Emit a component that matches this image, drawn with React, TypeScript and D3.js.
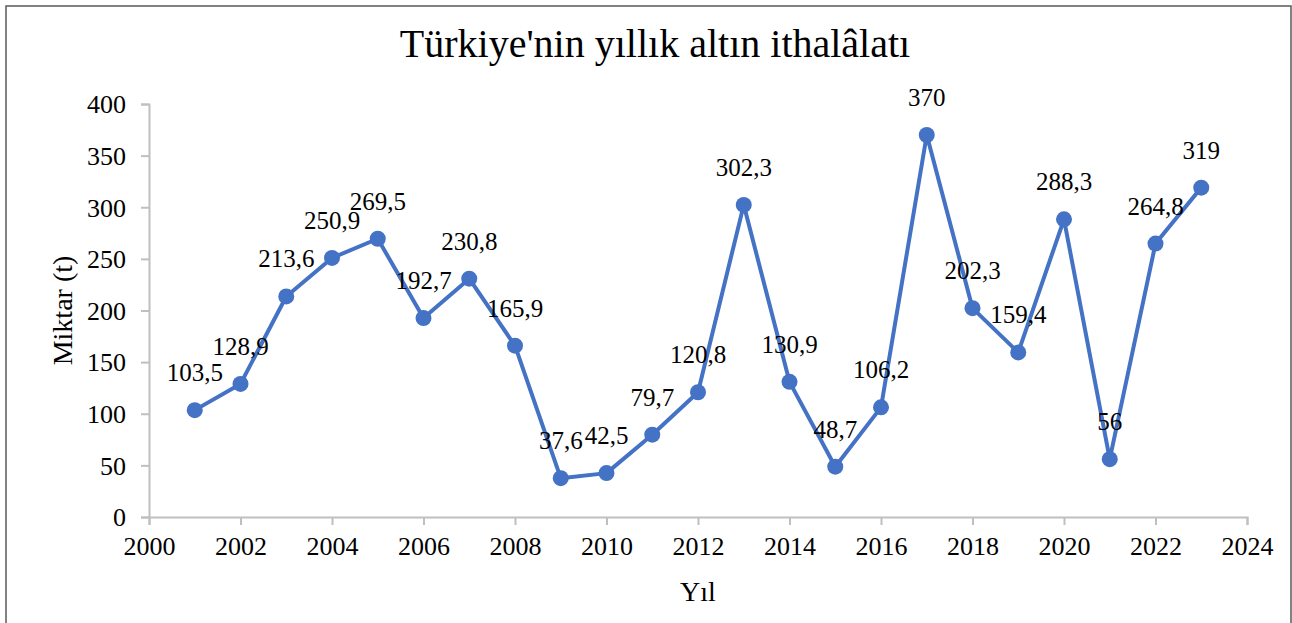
import React, { useEffect, useRef } from "react";
import * as d3 from "d3";

const years = [2001, 2002, 2003, 2004, 2005, 2006, 2007, 2008, 2009, 2010, 2011, 2012,
  2013, 2014, 2015, 2016, 2017, 2018, 2019, 2020, 2021, 2022, 2023];
const amounts = [103.5, 128.9, 213.6, 250.9, 269.5, 192.7, 230.8, 165.9, 37.6, 42.5, 79.7, 120.8,
  302.3, 130.9, 48.7, 106.2, 370, 202.3, 159.4, 288.3, 56, 264.8, 319];
const xTicks = [2000, 2002, 2004, 2006, 2008, 2010, 2012, 2014, 2016, 2018, 2020, 2022, 2024];
const yTicks = [0, 50, 100, 150, 200, 250, 300, 350, 400];

const title = "Türkiye'nin yıllık altın ithalâlatı";
const xTitle = "Yıl";
const yTitle = "Miktar (t)";

const W = 1292;
const H = 623;
const FONT = "'Liberation Serif', 'Times New Roman', serif";

function drawChart(node: SVGSVGElement) {
  const svg = d3.select(node);
  svg.selectAll("*").remove();

  const margin = { top: 104, right: 45, bottom: 106, left: 149 };

  const x = d3.scaleLinear().domain([2000, 2024]).range([margin.left, W - margin.right]);
  const y = d3.scaleLinear().domain([0, 400]).range([H - margin.bottom, margin.top]);

  // outer frame
  svg.append("rect")
    .attr("x", 6).attr("y", 6)
    .attr("width", 1285).attr("height", 630)
    .attr("fill", "#fff")
    .attr("stroke", "#595959")
    .attr("stroke-width", 1.5);

  svg.append("text")
    .attr("x", 655).attr("y", 57)
    .attr("text-anchor", "middle")
    .style("font-family", FONT)
    .style("font-size", "40px")
    .text(title);

  const axisColor = "#bfbfbf";

  // y axis
  const yAxis = svg.append("g")
    .attr("transform", `translate(${margin.left},0)`)
    .call(d3.axisLeft(y).tickValues(yTicks).tickSize(8).tickPadding(15).tickFormat(d3.format("d")));
  // x axis
  const xAxis = svg.append("g")
    .attr("transform", `translate(0,${y(0)})`)
    .call(d3.axisBottom(x).tickValues(xTicks).tickSize(8).tickPadding(12).tickFormat(d3.format("d")));

  [xAxis, yAxis].forEach(g => {
    g.select(".domain").attr("stroke", axisColor).attr("stroke-width", 2);
    g.selectAll(".tick line").attr("stroke", axisColor).attr("stroke-width", 2);
    g.selectAll(".tick text")
      .attr("fill", "#000")
      .style("font-family", FONT)
      .style("font-size", "26px");
  });
  yAxis.selectAll(".tick text").attr("dy", "0.34em");

  svg.append("text")
    .attr("transform", `translate(72,${(y(0) + y(400)) / 2}) rotate(-90)`)
    .attr("text-anchor", "middle")
    .style("font-family", FONT)
    .style("font-size", "28px")
    .text(yTitle);

  svg.append("text")
    .attr("x", (x(2000) + x(2024)) / 2).attr("y", 601)
    .attr("text-anchor", "middle")
    .style("font-family", FONT)
    .style("font-size", "28px")
    .text(xTitle);

  const data = years.map((yr, i) => ({ year: yr, value: amounts[i] }));
  const line = d3.line<{ year: number; value: number }>()
    .x(d => x(d.year))
    .y(d => y(d.value));

  svg.append("path")
    .datum(data)
    .attr("d", line)
    .attr("fill", "none")
    .attr("stroke", "#4472C4")
    .attr("stroke-width", 4)
    .attr("stroke-linejoin", "round");

  svg.selectAll(".dot")
    .data(data)
    .enter().append("circle")
    .attr("class", "dot")
    .attr("cx", d => x(d.year))
    .attr("cy", d => y(d.value))
    .attr("r", 8)
    .attr("fill", "#4472C4");

  svg.selectAll(".lbl")
    .data(data)
    .enter().append("text")
    .attr("class", "lbl")
    .attr("x", d => x(d.year))
    .attr("y", d => y(d.value) - 29)
    .attr("text-anchor", "middle")
    .style("font-family", FONT)
    .style("font-size", "25px")
    .text(d => String(d.value).replace(".", ","));
}

export default function App() {
  const ref = useRef<SVGSVGElement>(null);
  useEffect(() => {
    if (ref.current) drawChart(ref.current);
  }, []);
  return (
    <svg
      ref={ref}
      width={W}
      height={H}
      style={{ position: "absolute", left: 0, top: 0, background: "#fff" }}
    />
  );
}
